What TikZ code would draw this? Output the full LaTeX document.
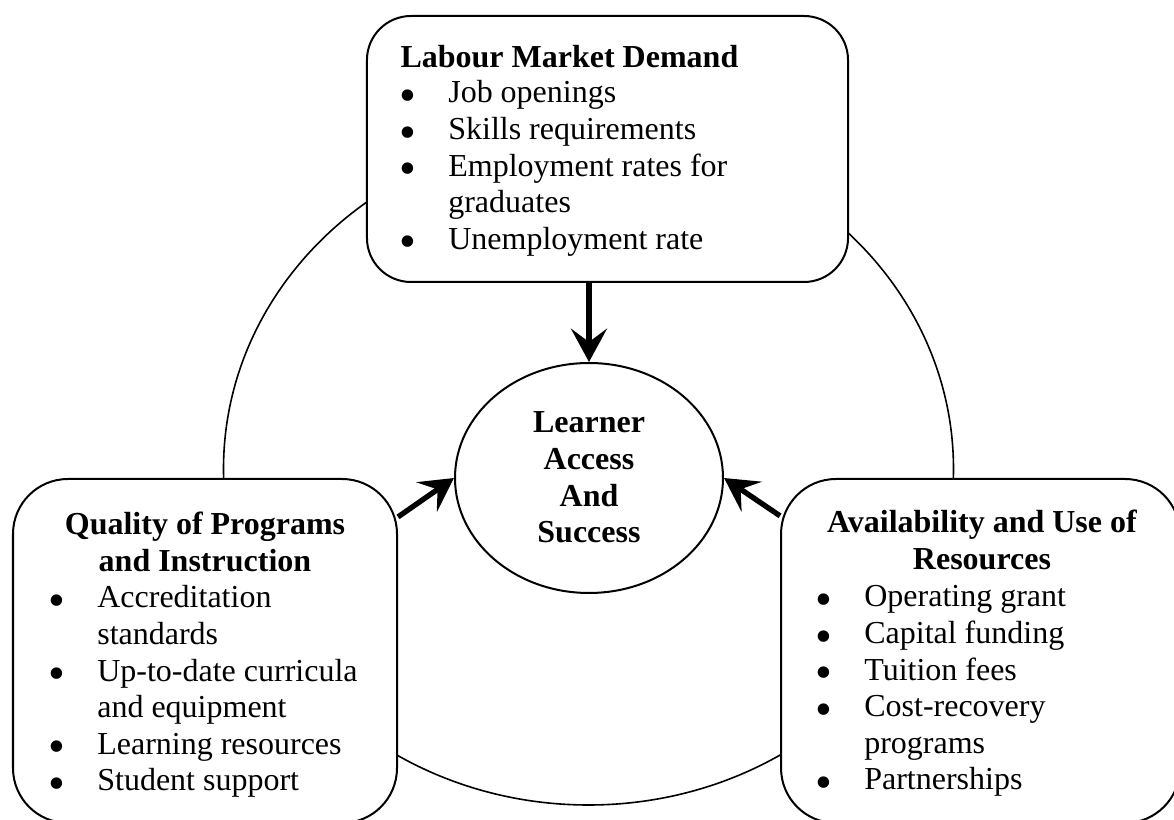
\documentclass[tikz,border=0pt]{standalone}
\usepackage{fontspec}
\setmainfont{Liberation Serif}
\usetikzlibrary{arrows.meta,shapes.geometric,calc}
\newcommand\bdot{\smash{\raisebox{-3.2pt}{\scalebox{1.5}{\textbullet}}}}
\newcommand\bi[1]{\makebox[18.3pt][l]{\bdot}#1}
\newcommand\ind{\hspace*{18.3pt}}
\begin{document}
\begin{tikzpicture}[x=0.375pt,y=-0.375pt,
  txt/.style={inner sep=0pt, font=\fontsize{12pt}{13.7pt}\selectfont},
  box/.style={draw, line width=0.75pt, rounded corners=#1, fill=white, inner sep=0pt},
  oval/.style={draw, ellipse, inner sep=0pt},
  arr/.style={line width=2pt, -{Stealth[length=12.5pt,width=13.5pt,inset=5pt]}}]
\useasboundingbox (0,0) rectangle (1174,820);
\fill[white] (0,0) rectangle (1174,820);
\clip (0,0) rectangle (1174,820);
% outer ring
\node[oval, line width=0.6pt, minimum width=273.75pt, minimum height=252pt] (ring) at (588.5,469) {};
% boxes
\node[box=16.5pt, minimum width=180.4pt, minimum height=99.75pt] (lmd) at (607.5,149) {};
\node[box=20.6pt, minimum width=144pt, minimum height=129pt] (qpi) at (205,651) {};
\node[box=20.6pt, minimum width=149.6pt, minimum height=129pt] (aur) at (980.5,651) {};
% centre
\node[oval, fill=white, line width=0.75pt, minimum width=100.5pt, minimum height=86.25pt] (las) at (589,478) {};
\node[txt, anchor=base] (lastext) at (589,433) {\parbox[t]{90pt}{\centering\bfseries Learner\\Access\\And\\Success}};
% top box text
\node[txt, anchor=base west] (lmdh) at (400,68) {\textbf{Labour Market Demand}};
\node[txt, anchor=base west] (lmdl) at (399,103) {\parbox[t]{175pt}{\bi{Job openings}\\ \bi{Skills requirements}\\ \bi{Employment rates for}\\ \ind graduates\\ \bi{Unemployment rate}}};
% left box text
\node[txt, anchor=base] (qpih) at (205,535) {\parbox[t]{140pt}{\centering\bfseries Quality of Programs\\ and Instruction}};
\node[txt, anchor=base west] (qpil) at (48,608) {\parbox[t]{130pt}{\bi{Accreditation}\\ \ind standards\\ \bi{Up-to-date curricula}\\ \ind and equipment\\ \bi{Learning resources}\\ \bi{Student support}}};
% right box text
\node[txt, anchor=base] (aurh) at (982,533) {\parbox[t]{145pt}{\centering\bfseries Availability and Use of\\ Resources}};
\node[txt, anchor=base west] (aurl) at (815,607) {\parbox[t]{130pt}{\bi{Operating grant}\\ \bi{Capital funding}\\ \bi{Tuition fees}\\ \bi{Cost-recovery}\\ \ind programs\\ \bi{Partnerships}}};
% arrows
\draw[arr] (lmd.south -| las.north) -- (las.north);
\draw[arr] ([yshift=-14.6pt]qpi.north east) -- (las.west);
\draw[arr] ([yshift=-14.2pt]aur.north west) -- (las.east);
\end{tikzpicture}
\end{document}
